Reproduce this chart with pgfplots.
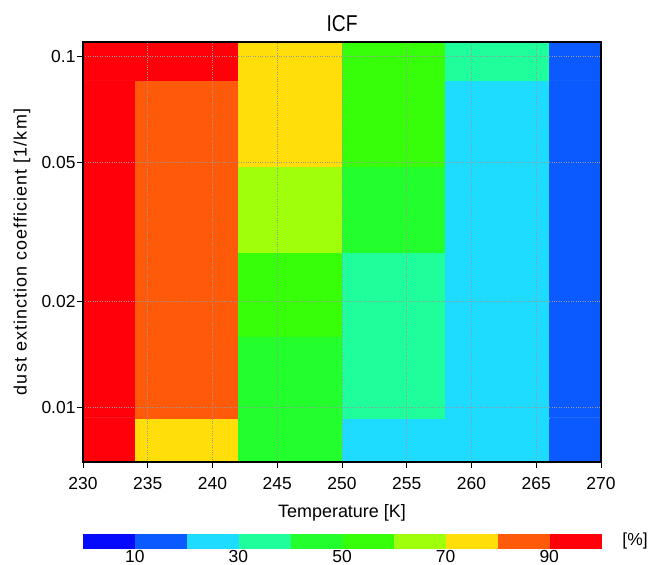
\documentclass[border=0pt]{standalone}
\usepackage{fontspec}
\setmainfont{Liberation Sans}
\usepackage{pgfplots}
\usepackage{pgfplotstable}
\pgfplotsset{compat=1.18}

% ICF (%) at the cell centres: temperature (K) x dust extinction coefficient (1/km)
\pgfplotstableread{
x    y        c
230  0.00719  95
238  0.00719  75
246  0.00719  45
254  0.00719  25
262  0.00719  25
270  0.00719  15
230  0.01218  95
238  0.01218  85
246  0.01218  45
254  0.01218  35
262  0.01218  25
270  0.01218  15
230  0.02095  95
238  0.02095  85
246  0.02095  55
254  0.02095  35
262  0.02095  25
270  0.02095  15
230  0.03665  95
238  0.03665  85
246  0.03665  65
254  0.03665  45
262  0.03665  25
270  0.03665  15
230  0.06436  95
238  0.06436  85
246  0.06436  75
254  0.06436  55
262  0.06436  25
270  0.06436  15
230  0.1133   95
238  0.1133   95
246  0.1133   75
254  0.1133   55
262  0.1133   35
270  0.1133   15
}\icfdata

\begin{document}
\begin{tikzpicture}[x=1bp,y=1bp]
\path[use as bounding box] (0,0) rectangle (651,565);
\begin{axis}[
  at={(83bp,103bp)}, anchor=south west,
  scale only axis, width=518bp, height=420bp,
  xmin=230, xmax=270, ymin=0.007, ymax=0.11,
  ymode=log,
  xtick={230,235,...,270},
  ytick={0.01,0.02,0.05,0.1},
  yticklabels={0.01,0.02,0.05,0.1},
  yminorticks=false,
  tick pos=left, tick align=outside,
  major tick length=6bp,
  grid=major,
  major grid style={dotted, black!40, line width=1bp},
  axis on top,
  axis line style={line width=1.3bp},
  every tick/.style={black, line width=1bp},
  tick label style={font=\fontsize{17.5}{20}\selectfont},
  xticklabel style={yshift=-6bp},
  yticklabel style={xshift=2bp},
  /pgf/number format/assume math mode=true,
  title={\scalebox{0.84}[1]{ICF}},
  title style={font=\fontsize{23}{26}\selectfont, at={(axis description cs:0.5,1.0109)}, anchor=base},
  xlabel={Temperature [K]},
  xlabel style={font=\fontsize{18}{21}\selectfont, at={(axis description cs:0.5,-0.131)}, anchor=base},
  ylabel={dust extinction coefficient [1/km]},
  ylabel style={font=\fontsize{18}{21}\selectfont\addfontfeature{LetterSpace=6}, at={(axis description cs:-0.1178,0.5)}, anchor=center},
  colormap={icf}{
    rgb255=(5,10,250) rgb255=(10,90,255) rgb255=(30,220,255) rgb255=(30,255,155)
    rgb255=(35,255,45) rgb255=(55,255,10) rgb255=(160,255,10) rgb255=(255,222,10)
    rgb255=(255,90,10) rgb255=(255,0,10)},
  colormap access=piecewise constant,
  point meta min=0, point meta max=100,
  colorbar horizontal,
  colorbar style={
    at={(parent axis.south west)}, anchor=north west, yshift=-63.5bp,
    scale only axis, width=518bp, height=14bp,
    xtick={10,30,50,70,90},
    xticklabel style={font=\fontsize{17.5}{20}\selectfont, yshift=1.5bp},
    /pgf/number format/assume math mode=true,
    axis line style={draw=none},
    major tick length=0pt,
    every tick/.style={draw=none},
  },
]
\addplot[matrix plot*, mesh/cols=6, point meta=explicit] table[x=x, y=y, meta=c] {\icfdata};
\end{axis}
\node[font=\fontsize{17.5}{20}\selectfont] at (635,24) {[\%]};
\end{tikzpicture}
\end{document}
